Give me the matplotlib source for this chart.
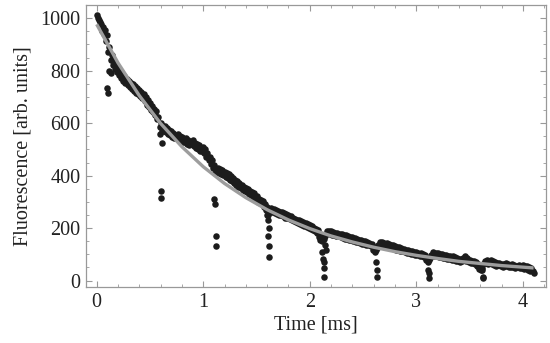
import numpy as np
import matplotlib.pyplot as plt
from matplotlib.ticker import MultipleLocator

plt.rcParams['font.family'] = ['Liberation Serif', 'DejaVu Serif']

# upper edge of the measured band, sampled every 0.02 ms from 0 to 4.10
fluor_a = [
    1012, 995, 980, 968, 955, 935, 890, 860, 838, 822,
    808, 798, 788, 778, 768, 760, 755, 748, 740, 735,
    728, 720, 712, 700, 688, 676, 664, 655, 645, 625,
    600, 588, 590, 582, 575, 570, 562, 556, 560, 552,
    546, 540, 545, 535, 530, 535, 525, 520, 515, 505,
    510, 500, 485, 470, 460, 440, 425, 430, 425, 420,
    415, 410, 405, 398, 392, 384, 378, 370, 364, 358,
    352, 348, 342, 338, 332, 322, 312, 308, 302, 292,
    282, 265, 278, 274, 270, 266, 262, 260, 256, 252,
    250, 245, 240, 236, 232, 230, 226, 222, 218, 215,
    212, 208, 202, 198, 192, 172, 158, 168, 188, 190,
    188, 185, 183, 182, 178, 176, 175, 172, 168, 166,
    165, 162, 158, 156, 155, 152, 150, 146, 144, 140,
    126, 116, 134, 148, 148, 145, 142, 138, 136, 135,
    132, 128, 126, 124, 122, 118, 116, 114, 112, 110,
    108, 106, 104, 102, 98, 86, 80, 96, 108, 106,
    104, 102, 100, 98, 96, 94, 92, 92, 89, 86,
    84, 82, 86, 92, 86, 78, 76, 76, 72, 64,
    50, 46, 76, 78, 74, 78, 76, 70, 66, 68,
    64, 62, 66, 64, 60, 62, 60, 57, 60, 56,
    58, 54, 55, 50, 46, 28,
]

# lower edge of the band, sampled every 0.02 ms from 0.01 to 4.09
fluor_b = [
    1000, 985, 950, 940, 915, 870, 840, 820, 805, 795,
    785, 772, 762, 752, 745, 738, 730, 722, 716, 710,
    702, 695, 684, 670, 660, 650, 642, 632, 615, 585,
    570, 572, 565, 560, 555, 548, 542, 545, 538, 532,
    528, 530, 522, 518, 520, 512, 506, 500, 492, 495,
    486, 472, 458, 446, 428, 410, 415, 410, 405, 402,
    396, 390, 384, 380, 372, 365, 358, 352, 346, 340,
    336, 330, 325, 318, 310, 300, 296, 290, 280, 270,
    250, 262, 262, 258, 255, 250, 248, 245, 240, 238,
    234, 230, 226, 222, 220, 216, 212, 208, 205, 202,
    198, 192, 188, 182, 165, 150, 160, 178, 180, 178,
    175, 174, 170, 168, 166, 164, 160, 158, 156, 154,
    150, 148, 146, 144, 141, 138, 136, 134, 130, 118,
    108, 125, 136, 138, 134, 131, 128, 126, 124, 121,
    118, 116, 114, 111, 108, 106, 104, 102, 100, 98,
    96, 94, 92, 88, 78, 72, 86, 96, 95, 93,
    91, 89, 87, 85, 84, 82, 80, 78, 76, 74,
    72, 76, 80, 76, 70, 66, 66, 62, 56, 44,
    40, 62, 66, 64, 66, 64, 60, 56, 58, 55,
    52, 55, 54, 50, 52, 50, 48, 50, 46, 48,
    44, 46, 42, 38, 35,
]

# isolated low points (periodic drops)
dip_t = [0.10, 0.11, 0.12, 0.13, 0.59, 0.61, 0.60, 0.60,
         1.10, 1.11, 1.12, 1.12, 1.60, 1.61, 1.62, 1.61, 1.62, 1.62,
         2.10, 2.11, 2.12, 2.13, 2.13, 2.13, 2.14, 2.15,
         2.62, 2.63, 2.63, 3.11, 3.12, 3.12, 3.62, 3.63, 3.63]
dip_v = [735, 715, 800, 790, 560, 525, 343, 316,
         312, 292, 168, 130, 251, 232, 202, 168, 130, 88,
         156, 110, 84, 72, 46, 15, 137, 118,
         72, 42, 15, 42, 30, 8, 42, 15, 8]

# exponential fit, read every 0.2 ms
fit_t = [0.0, 0.2, 0.4, 0.6, 0.8, 1.0, 1.2, 1.4, 1.6, 1.8, 2.0,
         2.2, 2.4, 2.6, 2.8, 3.0, 3.2, 3.4, 3.6, 3.8, 4.0, 4.1]
fit_v = [977, 830, 705, 599, 510, 434, 370, 316, 270, 231, 198,
         170, 147, 127, 110, 96, 84, 73, 65, 57, 51, 48]

t_a = np.round(np.arange(len(fluor_a)) * 0.02, 2)
t_b = np.round(np.arange(len(fluor_b)) * 0.02 + 0.01, 2)

fig = plt.figure(figsize=(5.5, 3.43), dpi=100)
ax = fig.add_axes([0.1564, 0.163, 0.836, 0.822])

dot = '#1c1c1c'
ax.scatter(t_a, fluor_a, s=22, color=dot, linewidths=0, zorder=2)
ax.scatter(t_b, fluor_b, s=22, color=dot, linewidths=0, zorder=2)
ax.scatter(dip_t, dip_v, s=22, color=dot, linewidths=0, zorder=2)
ax.plot(fit_t, fit_v, color='#9d9d9d', lw=2.4, zorder=3,
        solid_capstyle='butt')

ax.set_xlim(-0.1, 4.215)
ax.set_ylim(-25, 1050)

ax.xaxis.set_major_locator(MultipleLocator(1))
ax.xaxis.set_minor_locator(MultipleLocator(0.2))
ax.yaxis.set_major_locator(MultipleLocator(200))
ax.yaxis.set_minor_locator(MultipleLocator(50))

for s in ax.spines.values():
    s.set_color('#999999')
    s.set_linewidth(0.9)

ax.tick_params(which='both', direction='in', top=True, right=True,
               color='#999999', labelsize=14.5, labelcolor='#222222')
ax.tick_params(which='major', length=4.5, width=0.8, pad=4)
ax.tick_params(which='minor', length=2.3, width=0.6)

ax.set_xlabel('Time [ms]', fontsize=14.5, color='#222222', labelpad=3)
ax.set_ylabel('Fluorescence [arb. units]', fontsize=14.5, color='#222222',
              labelpad=6)

plt.savefig('out.png', dpi=100)
plt.close()
